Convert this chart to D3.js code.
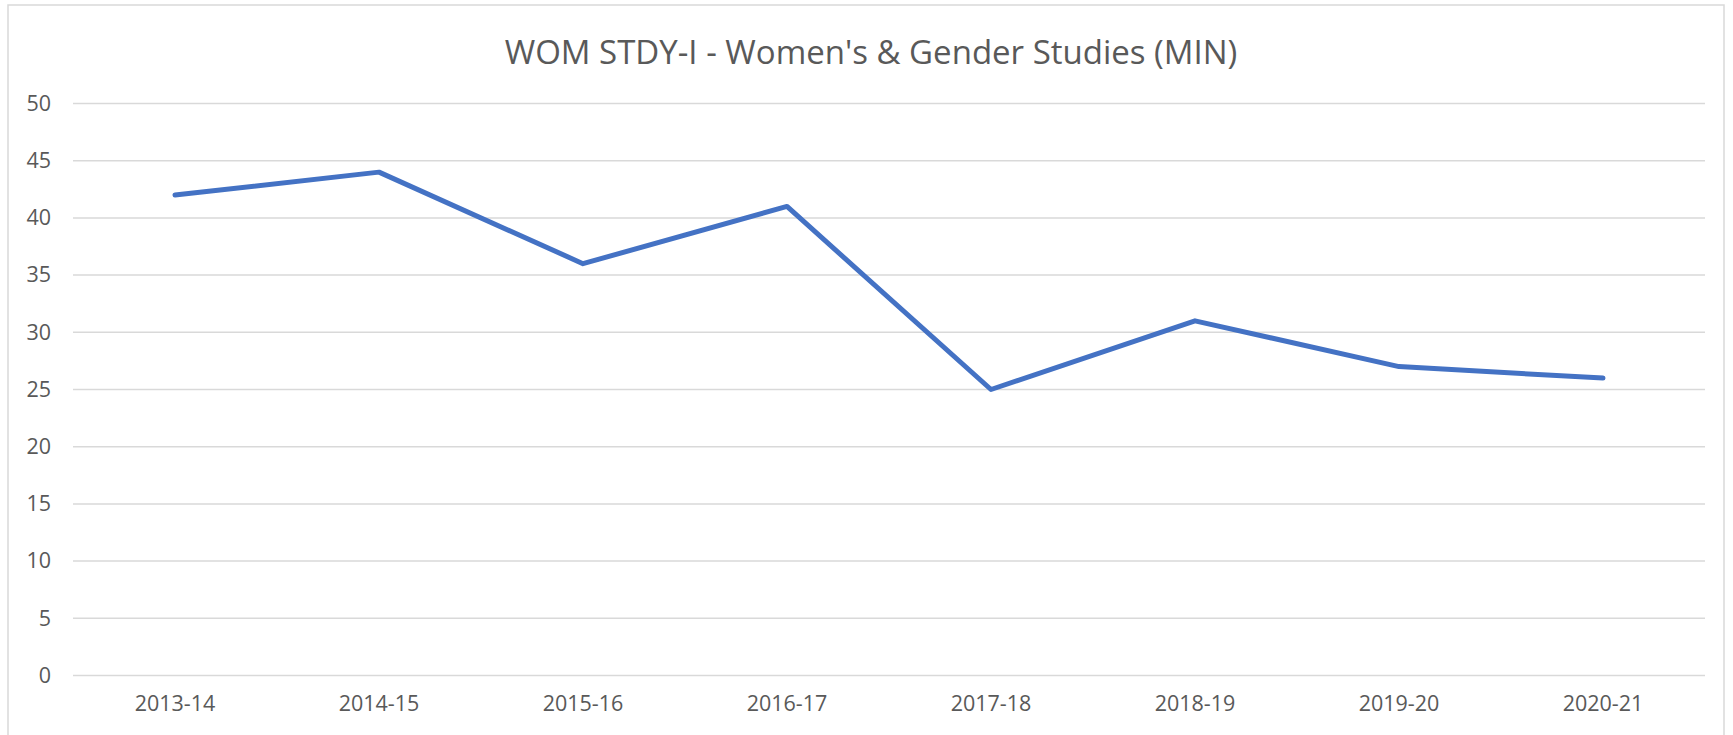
<!DOCTYPE html>
<html><head><meta charset="utf-8">
<script src="https://cdn.jsdelivr.net/npm/d3@7"></script>
<style>body{margin:0;background:#fff;}svg{display:block;}</style>
</head><body>
<svg id="c" width="1733" height="735"></svg>
<script>
const categories = ["2013-14","2014-15","2015-16","2016-17","2017-18","2018-19","2019-20","2020-21"];
const values = [42,44,36,41,25,31,27,26];
const yTicks = [0,5,10,15,20,25,30,35,40,45,50];
const title = "WOM STDY-I - Women's & Gender Studies (MIN)";

const svg = d3.select("#c");
const m = {left:73, right:1705, top:103.5, bottom:675.5};
const font = "'Open Sans', 'Noto Sans', sans-serif";

svg.append("rect").attr("x",8).attr("y",5).attr("width",1716).attr("height",740)
  .attr("fill","#fff").attr("stroke","#d9d9d9").attr("stroke-width",1.5);

const x = d3.scaleBand().domain(categories).range([m.left,m.right]);
const y = d3.scaleLinear().domain([0,50]).range([m.bottom,m.top]);

const grid = svg.append("g");
grid.selectAll("line").data(yTicks).join("line")
  .attr("x1",m.left).attr("x2",m.right)
  .attr("y1",d=>y(d)).attr("y2",d=>y(d))
  .attr("stroke","#d9d9d9").attr("stroke-width",1.5);

const yAxis = svg.append("g").attr("transform",`translate(${m.left},0)`)
  .call(d3.axisLeft(y).tickValues(yTicks).tickSize(0).tickPadding(22));
yAxis.select(".domain").remove();
yAxis.selectAll("text").attr("fill","#595959").style("font-family",font).style("font-size","21.5px");

const xAxis = svg.append("g").attr("transform",`translate(0,${m.bottom})`)
  .call(d3.axisBottom(x).tickSize(0).tickPadding(20));
xAxis.select(".domain").remove();
xAxis.selectAll("text").attr("fill","#595959").style("font-family",font).style("font-size","21.5px");

const line = d3.line().x((d,i)=>x(categories[i])+x.bandwidth()/2).y(d=>y(d));
svg.append("path").datum(values).attr("d",line)
  .attr("fill","none").attr("stroke","#4472C4").attr("stroke-width",5)
  .attr("stroke-linejoin","round").attr("stroke-linecap","round");

svg.append("text").attr("x",871).attr("y",64).attr("text-anchor","middle")
  .attr("fill","#595959").style("font-family",font).style("font-size","33px")
  .text(title);
</script>
</body></html>
